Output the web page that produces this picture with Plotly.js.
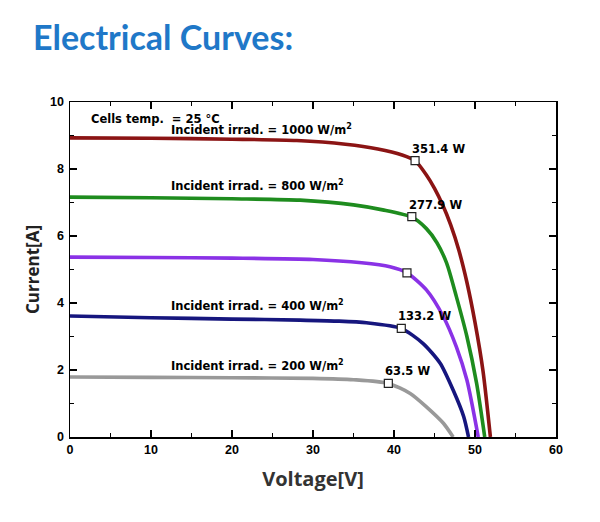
<!DOCTYPE html>
<html>
<head>
<meta charset="utf-8">
<script src="https://cdn.plot.ly/plotly-3.0.1.min.js"></script>
<style>
html,body{margin:0;padding:0;background:#fff;}
#chart{width:600px;height:522px;}
</style>
</head>
<body>
<div id="chart"></div>
<script>
// ---- data ----
const irradiances = [1000, 800, 600, 400, 200];
const colors = ['#8b1414', '#1e8c1e', '#8a32e6', '#16167e', '#999999'];

const v1000 = [0, 10, 20, 28, 34, 38, 41, 42.6, 44, 45, 46, 47, 48, 49, 50, 51, 51.9];
const i1000 = [8.93, 8.92, 8.89, 8.85, 8.74, 8.6, 8.42, 8.25, 7.82, 7.42, 6.93, 6.33, 5.58, 4.62, 3.42, 1.95, 0];

const v800 = [0, 10, 20, 28.4, 35, 38.6, 42.2, 44, 45.3, 46.5, 47.7, 49, 50.2, 51.2];
const i800 = [7.16, 7.14, 7.11, 7.07, 6.93, 6.78, 6.56, 6.22, 5.8, 5.19, 4.19, 3.0, 1.6, 0];

const v600 = [0, 10, 20, 30, 36, 39.5, 41.6, 44, 46.1, 47.7, 49, 50.4];
const i600 = [5.37, 5.36, 5.34, 5.3, 5.2, 5.08, 4.9, 4.39, 3.59, 2.69, 1.7, 0];

const v400 = [0, 10, 20, 28.4, 33, 36.6, 40.9, 43.6, 45.7, 47.3, 48.6, 49.2];
const i400 = [3.61, 3.56, 3.52, 3.49, 3.46, 3.41, 3.24, 2.79, 2.2, 1.4, 0.61, 0];

const v200 = [0, 10, 20, 30, 35, 39.3, 42, 44, 46.1, 47.3];
const i200 = [1.79, 1.78, 1.77, 1.75, 1.71, 1.6, 1.3, 0.9, 0.41, 0];

// maximum power points
const vmp = [42.6, 42.2, 41.6, 40.9, 39.3];
const imp = [8.25, 6.58, 4.9, 3.24, 1.6];
const pmaxLabels = ['351.4 W', '277.9 W', '', '133.2 W', '63.5 W'];

// irradiance label anchors (left edge, vertical centre)
const irrLabelV = [12.2, 12.2, null, 12.2, 12.2];
const irrLabelI = [9.18, 7.5, null, 3.93, 2.12];

const xTickVals = [0, 10, 20, 30, 40, 50, 60];
const yTickVals = [0, 2, 4, 6, 8, 10];

const curvesV = [v1000, v800, v600, v400, v200];
const curvesI = [i1000, i800, i600, i400, i200];

// ---- traces ----
const traces = [];
for (let k = curvesV.length - 1; k >= 0; k--) {
  traces.push({
    x: curvesV[k], y: curvesI[k], type: 'scatter', mode: 'lines',
    line: {color: colors[k], width: 3.6, shape: 'spline', smoothing: 0.7},
    hoverinfo: 'skip', showlegend: false
  });
}
traces.push({
  x: vmp, y: imp, type: 'scatter', mode: 'markers',
  marker: {symbol: 'square', size: 8, color: '#ffffff', line: {color: '#222', width: 1.2}},
  hoverinfo: 'skip', showlegend: false
});

const lblFont = {family: 'DejaVu Sans, Arial, sans-serif', size: 11.5, color: '#000', weight: 'bold'};
const annotations = [];
for (let k = 0; k < irradiances.length; k++) {
  if (pmaxLabels[k]) {
    annotations.push({
      x: vmp[k], y: imp[k], xref: 'x', yref: 'y', text: '<b>' + pmaxLabels[k] + '</b>',
      showarrow: false, xanchor: 'left', yanchor: 'bottom', xshift: -5, yshift: 3, font: lblFont
    });
  }
  if (irrLabelV[k] !== null) {
    annotations.push({
      x: irrLabelV[k], y: irrLabelI[k], xref: 'x', yref: 'y',
      text: '<b>Incident irrad. = ' + irradiances[k] + ' W/m<sup>2</sup></b>',
      showarrow: false, xanchor: 'left', yanchor: 'middle', font: lblFont
    });
  }
}
annotations.push({
  x: 2.3, y: 9.5, xref: 'x', yref: 'y', text: '<b>Cells temp.  = 25 °C</b>',
  showarrow: false, xanchor: 'left', yanchor: 'middle', font: lblFont
});

const tickFont = {family: 'Liberation Sans, Arial, sans-serif', size: 12.5, color: '#000', weight: 'bold'};

const layout = {
  width: 600, height: 522,
  margin: {l: 70, r: 44, t: 102, b: 85},
  paper_bgcolor: '#fff', plot_bgcolor: '#fff',
  title: {
    text: '<b>Electrical Curves:</b>', x: 0.055, xanchor: 'left', y: 0.927, yanchor: 'middle',
    font: {family: 'Lato, Open Sans, sans-serif', size: 34, color: '#1f78c8', weight: 900}
  },
  xaxis: {
    range: [0, 60], tickvals: xTickVals, ticks: 'inside', ticklen: 7, tickwidth: 1.3, tickcolor: '#000',
    showline: true, linecolor: '#000', linewidth: 1.5, mirror: 'ticks', showgrid: false, zeroline: false,
    minor: {dtick: 5, ticks: 'inside', ticklen: 4, tickcolor: '#000', tickwidth: 1.1, showgrid: false},
    tickfont: tickFont,
    title: {text: 'Voltage[V]', standoff: 16, font: {family: 'Open Sans, sans-serif', size: 20, color: '#333', weight: 'bold'}}
  },
  yaxis: {
    range: [0, 10], tickvals: yTickVals, ticks: 'inside', ticklen: 7, tickwidth: 1.3, tickcolor: '#000',
    showline: true, linecolor: '#000', linewidth: 1.5, mirror: 'ticks', showgrid: false, zeroline: false,
    minor: {dtick: 1, ticks: 'inside', ticklen: 4, tickcolor: '#000', tickwidth: 1.1, showgrid: false},
    tickfont: tickFont, ticklabelstandoff: 2,
    title: {text: 'Current[A]', standoff: 6, font: {family: 'Open Sans, sans-serif', size: 17, color: '#222', weight: 'bold'}}
  },
  annotations: annotations
};

Plotly.newPlot('chart', traces, layout, {displayModeBar: false, staticPlot: true});
</script>
</body>
</html>
